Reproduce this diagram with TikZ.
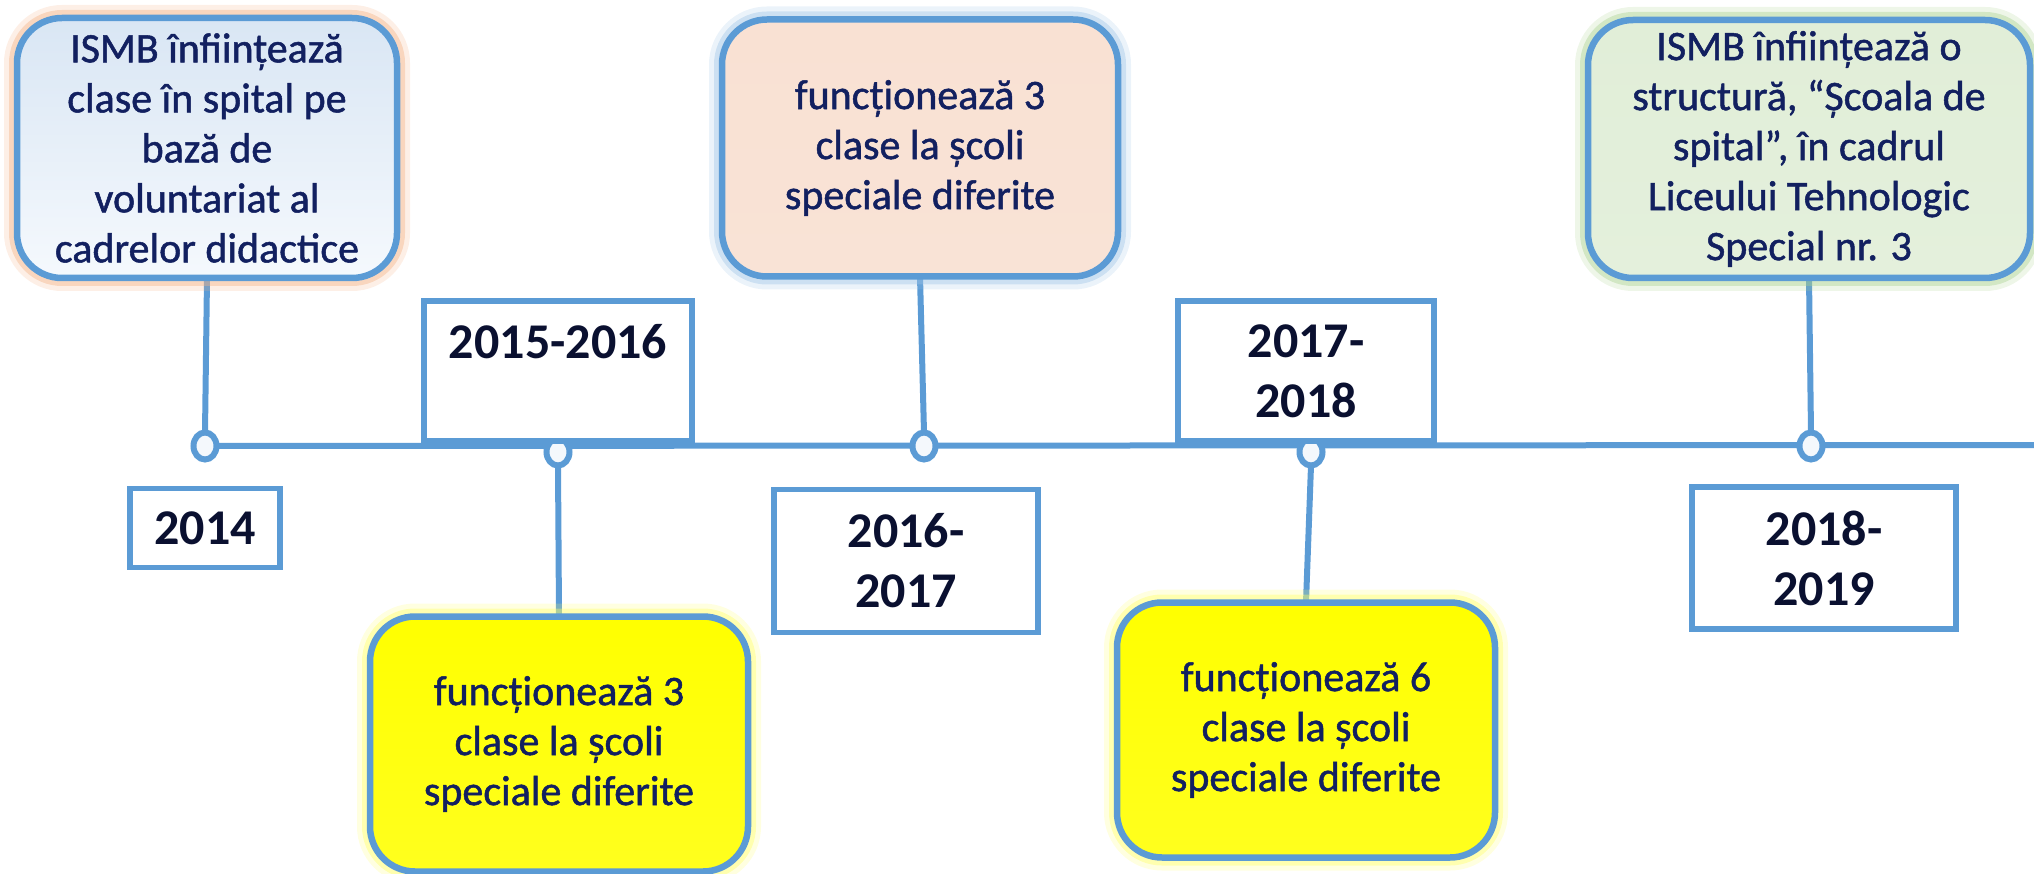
\documentclass[tikz,border=0pt]{standalone}
\usepackage{fontspec}
\setmainfont{Carlito}
\newfontfamily\evfont[FakeBold=1.2]{Carlito}
\usetikzlibrary{shapes.geometric}
\pgfdeclarelayer{background}
\pgfsetlayers{background,main}
\definecolor{lineblue}{HTML}{5B9BD5}
\definecolor{bodytext}{HTML}{122060}
\definecolor{yeartext}{HTML}{0A1030}
\definecolor{dotfill}{HTML}{F4F8FC}
\definecolor{glowor}{HTML}{F4B183}
\definecolor{glowbl}{HTML}{9DC3E6}
\definecolor{glowgr}{HTML}{A9D18E}
\definecolor{glowye}{HTML}{FFFF66}
\begin{document}
\begin{tikzpicture}[x=1pt,y=-1pt,
  every node/.style={inner sep=0pt,outer sep=0pt},
  conn/.style={draw=lineblue,line width=6pt},
  yearbox/.style={draw=lineblue,line width=5.5pt,fill=white,text=yeartext,
    font=\fontsize{50}{60}\selectfont\bfseries,align=center},
  evbox/.style={draw=lineblue,line width=6.5pt,rounded corners=45pt,text=bodytext,
    font=\evfont\fontsize{42}{50}\selectfont,align=center},
  glow/.style={preaction={draw=#1,line width=26pt,opacity=0.2},
               preaction={draw=#1,line width=16pt,opacity=0.4}},
  dot/.style={ellipse,draw=lineblue,line width=6pt,fill=dotfill,
    minimum width=23pt,minimum height=27pt}]
\useasboundingbox (0,0) rectangle (2034,874);

% circles on timeline
\node[dot] (c1) at (205,446) {};
\node[dot] (c2) at (558,452) {};
\node[dot] (c3) at (924,446) {};
\node[dot] (c4) at (1311,452) {};
\node[dot] (c5) at (1811,446) {};
\coordinate (tlend) at (2040,445);

% year boxes
\node[yearbox,minimum width=150pt,minimum height=79pt] (y1) at (205,528) {2014};
\node[yearbox,minimum width=268pt,minimum height=140pt] (y2) at (558,371) {2015-2016\\~};
\node[yearbox,minimum width=264pt,minimum height=143pt] (y3) at (906,561) {2016-\\2017};
\node[yearbox,minimum width=256pt,minimum height=140pt] (y4) at (1306,371) {2017-\\2018};
\node[yearbox,minimum width=264pt,minimum height=142pt] (y5) at (1824,558) {2018-\\2019};

% event boxes
\node[evbox,glow=glowor,top color={rgb,255:red,217;green,230;blue,244},bottom color={rgb,255:red,245;green,249;blue,253},
  minimum width=380pt,minimum height=260pt] (b1) at (207,148)
  {ISMB înființează\\clase în spital pe\\bază de\\voluntariat al\\cadrelor didactice};
\node[evbox,glow=glowbl,top color={rgb,255:red,249;green,225;blue,211},middle color=white,bottom color={rgb,255:red,249;green,227;blue,214},
  minimum width=396pt,minimum height=257pt] (b2) at (920,148)
  {funcționează 3\\clase la școli\\speciale diferite};
\node[evbox,glow=glowgr,top color={rgb,255:red,225;green,238;blue,216},middle color=white,bottom color={rgb,255:red,228;green,240;blue,220},
  minimum width=442pt,minimum height=258pt] (b3) at (1809,149)
  {ISMB înființează o\\structură, “Școala de\\spital”, în cadrul\\Liceului Tehnologic\\Special nr. 3};
\node[evbox,glow=glowye,top color={rgb,255:red,255;green,255;blue,0},middle color={rgb,255:red,255;green,255;blue,235},bottom color={rgb,255:red,255;green,255;blue,30},
  minimum width=378pt,minimum height=255pt] (b4) at (559,744)
  {funcționează 3\\clase la școli\\speciale diferite};
\node[evbox,glow=glowye,top color={rgb,255:red,255;green,255;blue,0},middle color={rgb,255:red,255;green,255;blue,235},bottom color={rgb,255:red,255;green,255;blue,30},
  minimum width=378pt,minimum height=255pt] (b5) at (1306,730)
  {funcționează 6\\clase la școli\\speciale diferite};

\begin{pgfonlayer}{background}
  \draw[conn] (c1.east) -- (tlend);
  \draw[conn] (b1.south) -- (c1.north);
  \draw[conn] (b2.south) -- (c3.north);
  \draw[conn] (b3.south) -- (c5.north);
  \draw[conn] (b4.north) -- (c2.south);
  \draw[conn] (b5.north) -- (c4.south);
\end{pgfonlayer}
\end{tikzpicture}
\end{document}
